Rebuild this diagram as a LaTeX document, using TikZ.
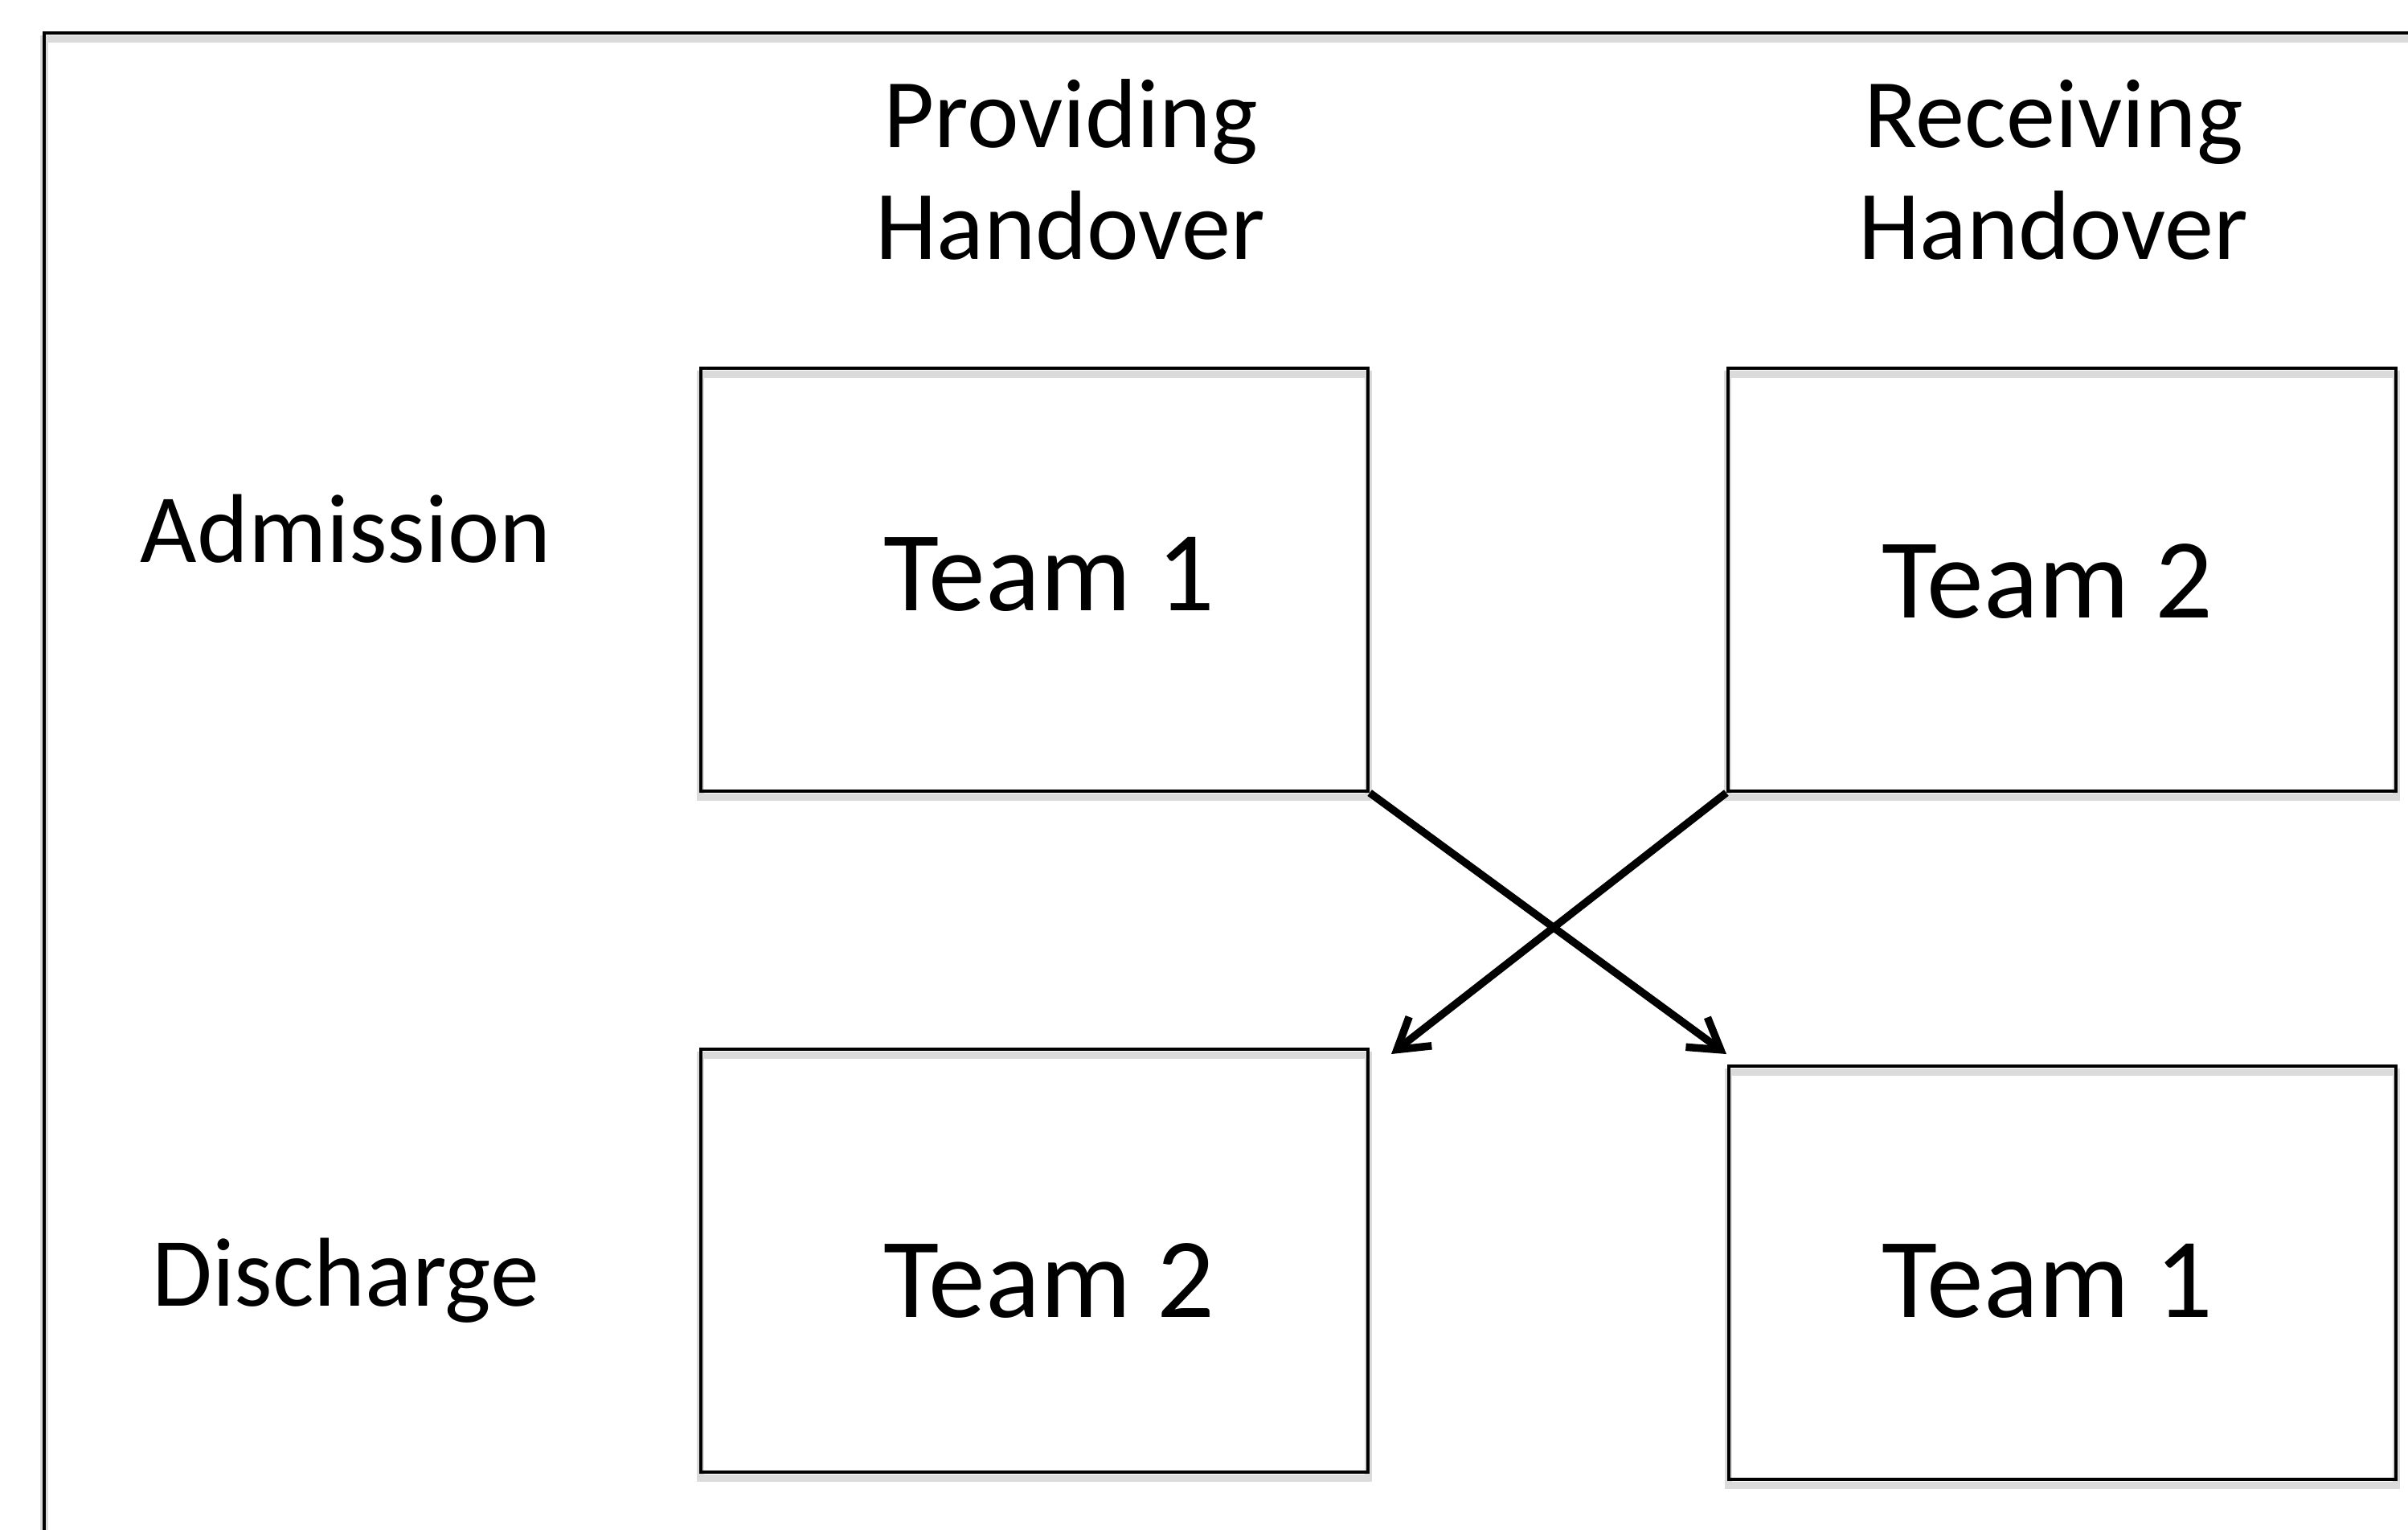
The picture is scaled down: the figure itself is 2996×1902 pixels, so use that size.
\documentclass[tikz,border=0pt]{standalone}
\usepackage{fontspec}
\setmainfont{Carlito}
\usetikzlibrary{arrows.meta,calc}
\tikzset{
  boxshadow/.style={preaction={draw=black!14, line width=2.6pt, transform canvas={yshift=-2.2pt}}},
  box/.style={draw=black, line width=1.1pt, rectangle, inner sep=0pt, boxshadow},
  teamtxt/.style={font=\fontsize{40.3}{46}\selectfont, anchor=base, inner sep=0pt},
  headtxt/.style={font=\fontsize{34.8}{39.5}\selectfont, align=center, inner sep=0pt},
  rowtxt/.style={font=\fontsize{34.6}{39.5}\selectfont, anchor=base, inner sep=0pt},
  arr/.style={draw=black, line width=2.7pt, -{Straight Barb[length=10.5pt,width=13pt,line width=2.7pt]}}
}
\begin{document}
\begin{tikzpicture}[x=0.01cm, y=-0.01cm]
  \useasboundingbox (0,0) rectangle (2996,1902);
  \clip (0,0) rectangle (2996,1902);
  % outer frame
  \draw[line width=1.1pt, boxshadow] (55,41) rectangle (3200,2100);
  % boxes
  \node[box, minimum width=8.3cm, minimum height=5.26cm] (tl) at (1287,721) {};
  \node[box, minimum width=8.31cm, minimum height=5.26cm] (tr) at (2565.5,721) {};
  \node[box, minimum width=8.3cm, minimum height=5.26cm] (bl) at (1287,1568) {};
  \node[box, minimum width=8.3cm, minimum height=5.14cm] (br) at (2566,1583) {};
  % team labels
  \node[teamtxt] (tlt) at (1305,759) {Team 1};
  \node[teamtxt] (trt) at (2547,768) {Team 2};
  \node[teamtxt] (blt) at (1305,1638) {Team 2};
  \node[teamtxt] (brt) at (2547,1638) {Team 1};
  % headers
  \node[headtxt] (h1) at (1332,211) {Providing\\Handover};
  \node[headtxt] (h2) at (2555,211) {Receiving\\Handover};
  % row labels
  \node[rowtxt] (adm) at (430,699) {Admission};
  \node[rowtxt] (dis) at (430,1624) {Discharge};
  % arrows
  \coordinate (tip1) at (2148,1311);
  \coordinate (tip2) at (1731,1311);
  \draw[arr] (tl.south east) -- (tip1);
  \draw[arr] (tr.south west) -- (tip2);
\end{tikzpicture}
\end{document}
